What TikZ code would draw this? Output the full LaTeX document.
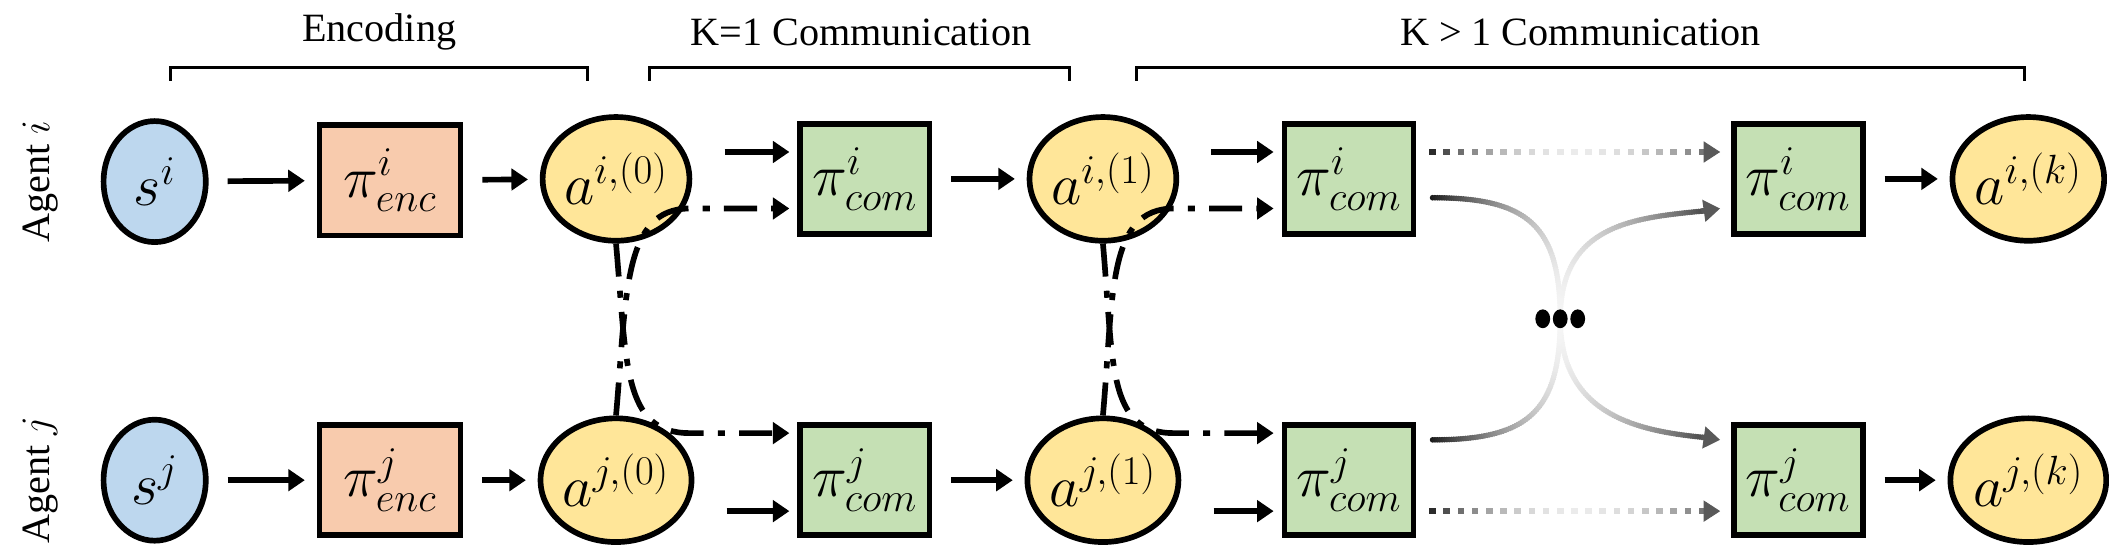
\documentclass[tikz,border=0pt]{standalone}
\usepackage{fontspec}
\setmainfont{Liberation Serif}
\usetikzlibrary{arrows.meta,decorations.markings,shapes.geometric,calc}
\definecolor{sblue}{HTML}{BDD7EE}
\definecolor{encor}{HTML}{F8CBAD}
\definecolor{comgr}{HTML}{C5E0B4}
\definecolor{ayel}{HTML}{FFE699}
\tikzset{
  lw/.style={line width=2.4pt},
  nfont/.style={font=\fontsize{27}{30}\selectfont},
  stnode/.style={ellipse, draw, lw, fill=sblue, minimum width=1.52cm, minimum height=1.8cm, inner sep=0pt, nfont},
  actnode/.style={ellipse, draw, lw, fill=ayel, minimum width=1.62cm, minimum height=1.84cm, inner sep=0pt, nfont},
  encbox/.style={rectangle, draw, lw, fill=encor, minimum width=2.1cm, minimum height=1.64cm, nfont},
  combox/.style={rectangle, draw, lw, fill=comgr, minimum width=1.92cm, minimum height=1.64cm, nfont},
  arr/.style={lw, -{Triangle[length=7pt,width=9pt]}},
  garr/.style={lw, black!65, -{Triangle[length=7pt,width=9pt]}},
  dd/.style={lw, dash pattern=on 14pt off 6pt on 3pt off 6pt, -{Triangle[length=7pt,width=9pt]}},
  lab/.style={font=\fontsize{17}{20}\selectfont},
  fadecurve/.style={decorate, decoration={markings,
     mark=between positions 0 and 1 step 1pt with {%
       \pgfmathsetmacro\tt{\pgfkeysvalueof{/pgf/decoration/mark info/distance from start}/\pgfdecoratedpathlength}%
       \pgfmathsetmacro\gg{\tt<0.5 ? 4+340*(\tt-0.5)^2 : 4+260*(\tt-0.5)^2}%
       \fill[black!\gg] (0,0) circle (1.2pt);}}},
  fadedot/.style={decorate, decoration={markings,
     mark=between positions 0 and 0.96 step 6pt with {%
       \pgfmathsetmacro\tt{\pgfkeysvalueof{/pgf/decoration/mark info/distance from start}/\pgfdecoratedpathlength}%
       \pgfmathsetmacro\gg{\tt<0.5 ? 8+300*(\tt-0.5)^2 : 8+240*(\tt-0.5)^2}%
       \fill[black!\gg] (-1.4pt,-1.3pt) rectangle (1.4pt,1.3pt);},
     mark=at position 1 with {\arrow{Triangle[length=7pt,width=9pt,color=black!65]}}}}
}
\begin{document}
\begin{tikzpicture}[x=0.02cm,y=-0.02cm]
\useasboundingbox (0,0) rectangle (1568,407);
% labels
\node[lab] (le) at (282,24) {Encoding};
\node[lab] (l1) at (640,24) {K=1 Communication};
\node[lab] (l2) at (1175,24) {K > 1 Communication};
\draw[line width=1.3pt] (127,60) -- (127,50) -- (437,50) -- (437,60);
\draw[line width=1.3pt] (483,60) -- (483,50) -- (795,50) -- (795,60);
\draw[line width=1.3pt] (845,60) -- (845,50) -- (1505,50) -- (1505,60);
\node[lab, rotate=90] (agi) at (30,135) {Agent $i$};
\node[lab, rotate=90] (agj) at (30,357) {Agent $j$};
% row i
\node[stnode] (si) at (115,135) {$s^i$};
\node[encbox] (ei) at (290,134) {$\pi^i_{enc}$};
\node[actnode] (a0i) at (458,133) {$a^{i,(0)}$};
\node[combox] (c1i) at (643,133) {$\pi^i_{com}$};
\node[actnode] (a1i) at (820,133) {$a^{i,(1)}$};
\node[combox] (c2i) at (1003,133) {$\pi^i_{com}$};
\node[combox] (c3i) at (1337,133) {$\pi^i_{com}$};
\node[actnode] (aki) at (1508,133) {$a^{i,(k)}$};
% row j
\node[stnode] (sj) at (115,357) {$s^j$};
\node[encbox] (ej) at (290,357) {$\pi^j_{enc}$};
\node[actnode] (a0j) at (458,357) {$a^{j,(0)}$};
\node[combox] (c1j) at (643,357) {$\pi^j_{com}$};
\node[actnode] (a1j) at (820,357) {$a^{j,(1)}$};
\node[combox] (c2j) at (1003,357) {$\pi^j_{com}$};
\node[combox] (c3j) at (1337,357) {$\pi^j_{com}$};
\node[actnode] (akj) at (1508,357) {$a^{j,(k)}$};
% straight arrows
\foreach \a/\b in {si/ei, ei/a0i, c1i/a1i, c3i/aki, sj/ej, ej/a0j, c1j/a1j, c3j/akj}
  \draw[arr, shorten <=8pt, shorten >=5pt] (\a) -- (\b);
% communication arrows
\foreach \a/\b/\c/\d in {a0i/c1i/a0j/c1j, a1i/c2i/a1j/c2j}{
  \draw[arr] ($(\a.east)+(24,-20)$) -- ($(\b.west)+(-6,-20)$);
  \draw[arr] ($(\c.east)+(24,23)$) -- ($(\d.west)+(-6,23)$);
  \draw[dd] (\a.south) .. controls +(8,90) and +(-50,0) .. ($(\d.west)+(-80,-35)$) -- ($(\d.west)+(-6,-35)$);
  \draw[dd] (\c.north) .. controls +(8,-90) and +(-50,0) .. ($(\b.west)+(-80,22)$) -- ($(\b.west)+(-6,22)$);
}
% K>1 faded connectors
\draw[fadedot] ($(c2i.east)+(12,-20)$) -- ($(c3i.west)+(-8,-20)$);
\draw[fadedot] ($(c2j.east)+(12,23)$) -- ($(c3j.west)+(-8,23)$);
\coordinate (mid) at (1160,237);
\coordinate (e1) at ($(c3j.west)+(-22,-32)$);
\coordinate (e2) at ($(c3i.west)+(-22,24)$);
\draw[fadecurve] ($(c2i.east)+(12,14)$) .. controls +(70,0) and +(0,-70) .. (mid) .. controls +(0,70) and +(-50,-5) .. (e1);
\draw[fadecurve] ($(c2j.east)+(12,-30)$) .. controls +(70,0) and +(0,70) .. (mid) .. controls +(0,-70) and +(-50,5) .. (e2);
\draw[garr] (e1) -- ($(c3j.west)+(-8,-30)$);
\draw[garr] (e2) -- ($(c3i.west)+(-8,22)$);
\foreach \x in {-13,0,13}
  \fill (mid) ++(\x,0) ellipse (5.5 and 7);
\end{tikzpicture}
\end{document}
